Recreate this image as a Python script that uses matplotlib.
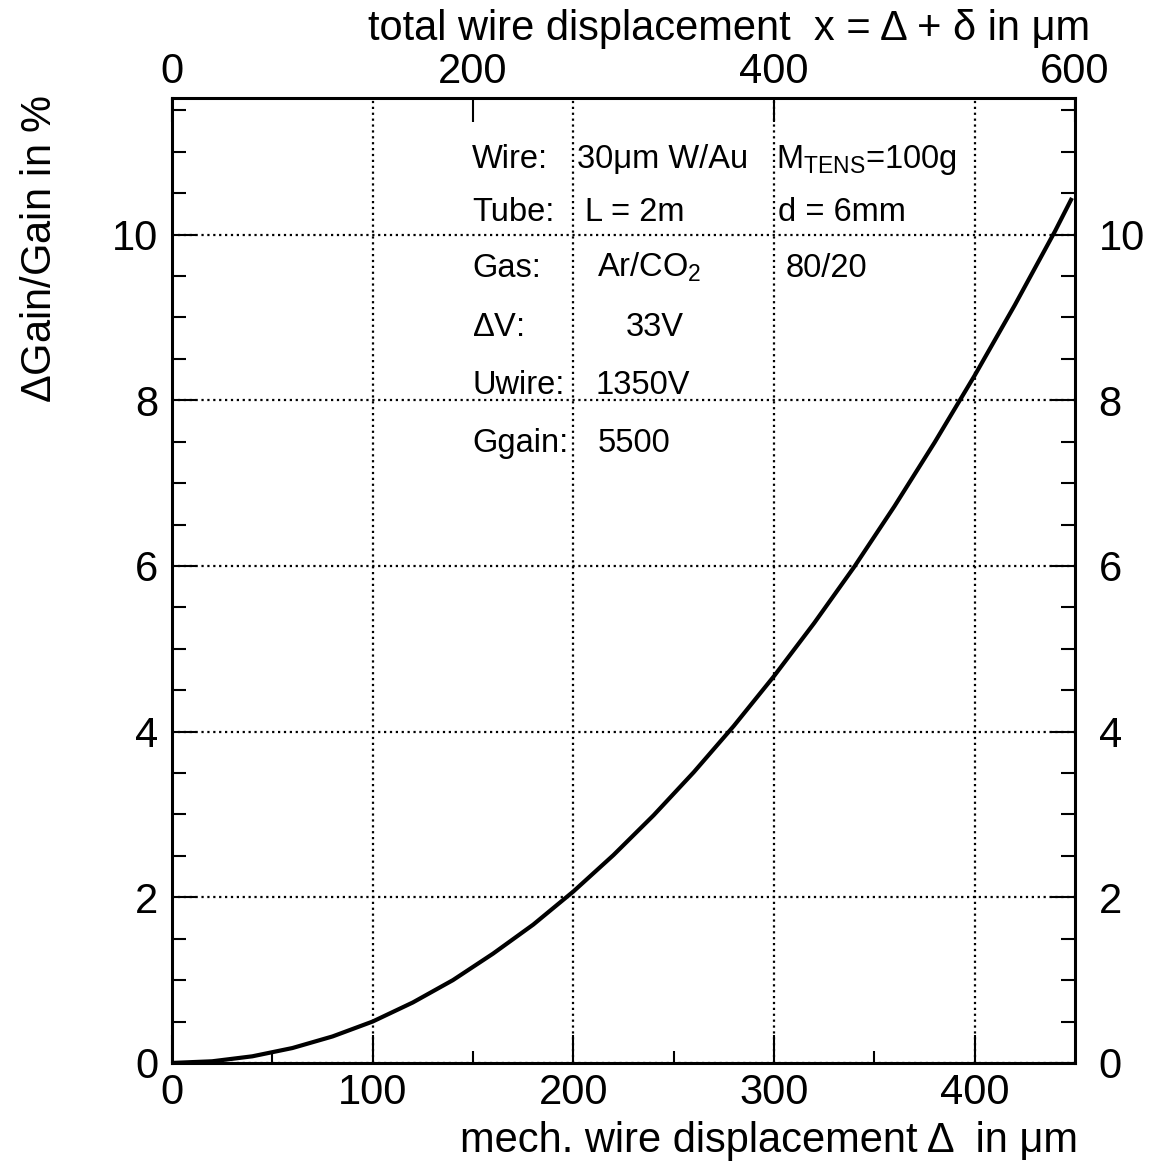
import numpy as np
import matplotlib
matplotlib.use('Agg')
import matplotlib.pyplot as plt

plt.rcParams['font.family'] = ['Liberation Sans', 'DejaVu Sans']
plt.rcParams['mathtext.default'] = 'regular'

# curve: mech. displacement (um) vs dGain/Gain (%)
delta = [0, 20, 40, 60, 80, 100, 120, 140, 160, 180, 200, 220, 240, 260,
         280, 300, 320, 340, 360, 380, 400, 420, 440, 448]
gain = [0.0, 0.02, 0.08, 0.18, 0.32, 0.50, 0.73, 1.00, 1.32, 1.67, 2.07,
        2.51, 2.99, 3.51, 4.07, 4.67, 5.31, 5.99, 6.72, 7.49, 8.30, 9.15,
        10.04, 10.42]

bottom_ticks = [0, 100, 200, 300, 400]
top_ticks = [0, 200, 400, 600]
y_ticks = [0, 2, 4, 6, 8, 10]

# parameter table
row_names = ['Wire:', 'Tube:', 'Gas:', r'$\Delta$V:', 'Uwire:', 'Ggain:']
row_vals = ['30\u03bcm W/Au', 'L = 2m', 'Ar/CO$_2$', '33V', '1350V', '5500']
row_extra = ['M$_{TENS}$=100g', 'd = 6mm', '80/20', '', '', '']
row_y = [10.81, 10.16, 9.49, 8.78, 8.07, 7.38]
val_x = [202, 206, 212, 226, 211, 212]
extra_x = [301, 302, 306, 0, 0, 0]

fig = plt.figure(figsize=(11.67, 11.70), dpi=100)
ax = fig.add_axes([0.1474, 0.0915, 0.7738, 0.8248])

ax.plot(delta, gain, color='black', lw=3)
ax.set_xlim(0, 450)
ax.set_ylim(0, 11.65)

ax.set_xticks(bottom_ticks)
ax.set_xticks([50, 150, 250, 350], minor=True)
ax.set_yticks(y_ticks)
ax.set_yticks(np.arange(0, 11.65, 0.5), minor=True)
ax.tick_params(axis='x', which='major', direction='in', length=20, width=1.5,
               pad=7, labelsize=30)
ax.tick_params(axis='x', which='minor', direction='in', length=9, width=1.5)
ax.tick_params(axis='y', which='major', direction='in', length=17, width=1.5,
               pad=10, labelsize=30, right=True)
ax.tick_params(axis='y', which='minor', direction='in', length=10, width=1.5,
               right=True)

ax.grid(True, which='major', linestyle=':', color='black', linewidth=1.6)
for s in ax.spines.values():
    s.set_linewidth(2.2)

# top axis: total displacement
top = ax.secondary_xaxis('top', functions=(lambda d: d * 4 / 3, lambda x: x * 3 / 4))
top.set_xticks(top_ticks)
top.tick_params(direction='in', length=17, width=1.5, pad=4, labelsize=30)

# right axis labels
right = ax.secondary_yaxis('right')
right.set_yticks(y_ticks)
right.tick_params(direction='in', length=0, pad=17, labelsize=30)

for name, val, extra, y, vx, ex in zip(row_names, row_vals, row_extra, row_y, val_x, extra_x):
    ax.text(149.5, y, name, fontsize=23.5, va='baseline')
    ax.text(vx, y, val, fontsize=23.5, va='baseline')
    if extra:
        ax.text(ex, y, extra, fontsize=23.5, va='baseline')

fig.text(0.034, 0.919, r'$\Delta$Gain/Gain in %', rotation=90, ha='center',
         va='top', fontsize=30)
fig.text(0.934, 0.966, 'total wire displacement  x = \u0394 + \u03b4 in \u03bcm',
         ha='right', va='baseline', fontsize=30)
fig.text(0.9237, 0.0154, 'mech. wire displacement \u0394  in \u03bcm',
         ha='right', va='baseline', fontsize=30)

fig.savefig('out.png', dpi=100)
